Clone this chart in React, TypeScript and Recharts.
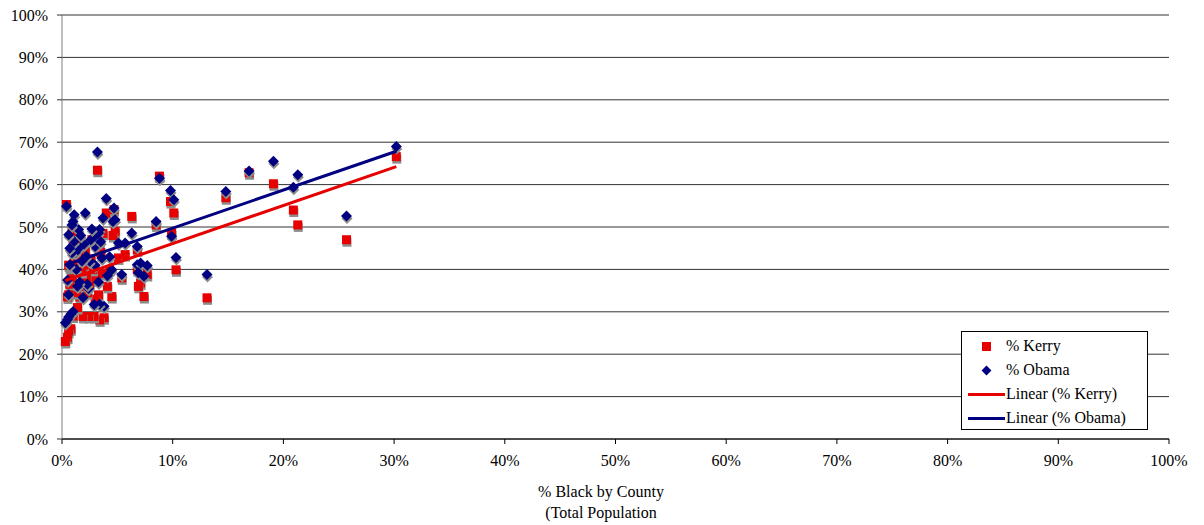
import { ComposedChart, Scatter, XAxis, YAxis, CartesianGrid, Legend } from "recharts"

// one entry per county: % black, Kerry share, Obama share
const blackPct = [
  30.2, 25.7, 21.3, 20.9, 19.1, 16.9, 14.8, 13.1, 8.8, 9.8, 10.1, 8.5, 9.9, 10.3,
  6.3, 6.8, 6.8, 7.1, 7.7, 6.9, 7.4, 5.1, 5.7, 5.4, 4.0, 4.7, 4.8, 4.6, 4.3, 4.5,
  4.1, 3.8, 3.7, 3.6, 3.4, 3.4, 3.3, 3.3, 3.2, 3.0, 3.0, 2.9, 2.8, 2.6, 2.5, 2.4,
  2.3, 2.2, 2.1, 2.0, 1.9, 1.8, 1.6, 1.5, 1.5, 1.4, 1.3, 1.2, 1.1, 1.1, 1.0, 1.0,
  0.9, 0.8, 0.7, 0.7, 0.6, 0.6, 0.6, 0.5, 0.5, 0.4, 0.3, 1.7, 2.7, 0.9, 3.5,
]
const kerryPct = [
  66.6, 47.0, 50.5, 54.0, 60.2, 62.8, 56.9, 33.3, 62.0, 56.0, 53.3, 50.5, 48.6, 39.9,
  52.5, 44.6, 40.0, 36.8, 38.8, 36.0, 33.6, 42.7, 43.5, 38.0, 53.3, 54.1, 49.0, 48.0, 40.0, 33.6,
  36.0, 28.6, 48.5, 39.0, 46.0, 28.1, 45.5, 34.0, 63.4, 33.0, 37.5, 28.9, 40.0, 42.5, 36.5, 28.9,
  34.5, 38.0, 44.5, 41.0, 28.9, 39.5, 33.5, 44.0, 36.0, 31.0, 34.5, 43.0, 47.5, 42.0, 46.5, 29.0,
  38.0, 26.0, 36.5, 40.5, 41.0, 34.0, 25.4, 24.0, 33.5, 55.3, 23.0, 46.0, 47.0, 49.0, 44.0,
]
const obamaPct = [
  69.0, 52.6, 62.3, 59.4, 65.5, 63.2, 58.4, 38.8, 61.5, 58.6, 56.4, 51.3, 47.8, 42.8,
  48.6, 45.4, 41.1, 41.5, 40.9, 39.2, 38.4, 46.2, 46.2, 38.8, 56.7, 54.5, 51.7, 51.3, 43.0, 39.9,
  38.5, 31.3, 52.1, 42.7, 49.4, 31.8, 48.6, 37.0, 67.7, 45.4, 41.0, 31.7, 47.4, 47.0, 41.9, 35.5,
  36.5, 43.1, 53.3, 46.0, 33.4, 42.0, 37.0, 49.4, 45.0, 36.0, 40.0, 44.0, 52.9, 46.6, 51.3, 30.1,
  43.9, 29.5, 41.1, 45.0, 48.2, 34.0, 28.8, 28.2, 37.5, 54.9, 27.4, 48.0, 49.5, 50.5, 46.5,
]

const xTicks = [0, 10, 20, 30, 40, 50, 60, 70, 80, 90, 100]
const yTicks = [0, 10, 20, 30, 40, 50, 60, 70, 80, 90, 100]

const FONT = "'Liberation Serif', 'Times New Roman', 'DejaVu Serif', serif"
const RED = "#e60000"
const NAVY = "#000080"

// least squares fit, drawn from min x to max x like Excel's trendline
function trend(xs: number[], ys: number[]) {
  const n = xs.length
  const mx = xs.reduce((a, b) => a + b, 0) / n
  const my = ys.reduce((a, b) => a + b, 0) / n
  let sxy = 0
  let sxx = 0
  for (let i = 0; i < n; i++) {
    sxy += (xs[i] - mx) * (ys[i] - my)
    sxx += (xs[i] - mx) * (xs[i] - mx)
  }
  const slope = sxy / sxx
  const icpt = my - slope * mx
  const lo = Math.min(...xs)
  const hi = Math.max(...xs)
  return [
    { x: lo, y: icpt + slope * lo },
    { x: hi, y: icpt + slope * hi },
  ]
}

const kerryData = blackPct.map((x, i) => ({ x, y: kerryPct[i] }))
const obamaData = blackPct.map((x, i) => ({ x, y: obamaPct[i] }))
const kerryTrend = trend(blackPct, kerryPct)
const obamaTrend = trend(blackPct, obamaPct)

function Square(props: any) {
  const { cx, cy } = props
  if (cx == null || cy == null) return <g />
  return (
    <g>
      <rect x={cx - 4} y={cy - 2} width={9} height={9} fill="#8c8c8c" />
      <rect x={cx - 4.5} y={cy - 4.5} width={9} height={9} fill={RED} />
    </g>
  )
}

function Diamond(props: any) {
  const { cx, cy } = props
  if (cx == null || cy == null) return <g />
  const d = 5.5
  const pts = (ox: number, oy: number) =>
    `${cx + ox},${cy - d + oy} ${cx + d + ox},${cy + oy} ${cx + ox},${cy + d + oy} ${cx - d + ox},${cy + oy}`
  return (
    <g>
      <polygon points={pts(0.5, 2.5)} fill="#8c8c8c" />
      <polygon points={pts(0, 0)} fill={NAVY} />
    </g>
  )
}

const noDot = () => <g />

function LegendBox() {
  const row = { display: "flex", alignItems: "center", height: 24 } as const
  const icon = { width: 40, display: "flex", justifyContent: "center", alignItems: "center" } as const
  return (
    <div
      style={{
        border: "1px solid #000",
        background: "#fff",
        fontFamily: FONT,
        fontSize: 16,
        color: "#000",
        padding: "2px 0 0 4px",
        boxSizing: "border-box",
        width: 187,
        height: 99,
      }}
    >
      <div style={row}>
        <div style={icon}>
          <div style={{ width: 9, height: 9, background: RED }} />
        </div>
        <span>% Kerry</span>
      </div>
      <div style={row}>
        <div style={icon}>
          <div style={{ width: 7, height: 7, background: NAVY, transform: "rotate(45deg)" }} />
        </div>
        <span>% Obama</span>
      </div>
      <div style={row}>
        <div style={icon}>
          <div style={{ width: 37, height: 3, background: RED }} />
        </div>
        <span>Linear (% Kerry)</span>
      </div>
      <div style={row}>
        <div style={icon}>
          <div style={{ width: 37, height: 3, background: NAVY }} />
        </div>
        <span>Linear (% Obama)</span>
      </div>
    </div>
  )
}

function AxisTitle() {
  return (
    <g>
      <text x={601} y={497} textAnchor="middle" fontFamily={FONT} fontSize={16} fill="#000">
        % Black by County
      </text>
      <text x={601} y={518} textAnchor="middle" fontFamily={FONT} fontSize={16} fill="#000">
        (Total Population
      </text>
    </g>
  )
}

export default function App() {
  const tickStyle = { fill: "#000", fontSize: 16, fontFamily: FONT }
  return (
    <div style={{ width: 1204, height: 525, background: "#fff", fontFamily: FONT }}>
      <style>{`body { margin: 0; }`}</style>
      <ComposedChart width={1204} height={525} margin={{ top: 15, right: 35, bottom: 56, left: 0 }}>
        <CartesianGrid vertical={false} stroke="#333" strokeWidth={1} />
        <XAxis
          type="number"
          dataKey="x"
          domain={[0, 100]}
          ticks={xTicks}
          interval={0}
          tickFormatter={(v) => `${v}%`}
          tick={tickStyle}
          tickSize={5}
          tickMargin={11}
          axisLine={{ stroke: "#000" }}
          tickLine={{ stroke: "#000" }}
          height={30}
          label={{ content: () => <AxisTitle /> }}
        />
        <YAxis
          type="number"
          dataKey="y"
          domain={[0, 100]}
          ticks={yTicks}
          interval={0}
          tickFormatter={(v) => `${v}%`}
          tick={tickStyle}
          tickSize={5}
          tickMargin={9}
          axisLine={{ stroke: "#808080" }}
          tickLine={{ stroke: "#333" }}
          width={62}
        />
        <Legend
          layout="horizontal"
          verticalAlign="middle"
          align="center"
          content={() => <LegendBox />}
          wrapperStyle={{ left: 961, top: 331, width: 187, height: 99 }}
        />
        <Scatter name="% Kerry" data={kerryData} shape={Square} isAnimationActive={false} />
        <Scatter name="% Obama" data={obamaData} shape={Diamond} isAnimationActive={false} />
        <Scatter
          name="Linear (% Kerry)"
          data={kerryTrend}
          line={{ stroke: RED, strokeWidth: 3 }}
          shape={noDot}
          isAnimationActive={false}
        />
        <Scatter
          name="Linear (% Obama)"
          data={obamaTrend}
          line={{ stroke: NAVY, strokeWidth: 3 }}
          shape={noDot}
          isAnimationActive={false}
        />
      </ComposedChart>
    </div>
  )
}
